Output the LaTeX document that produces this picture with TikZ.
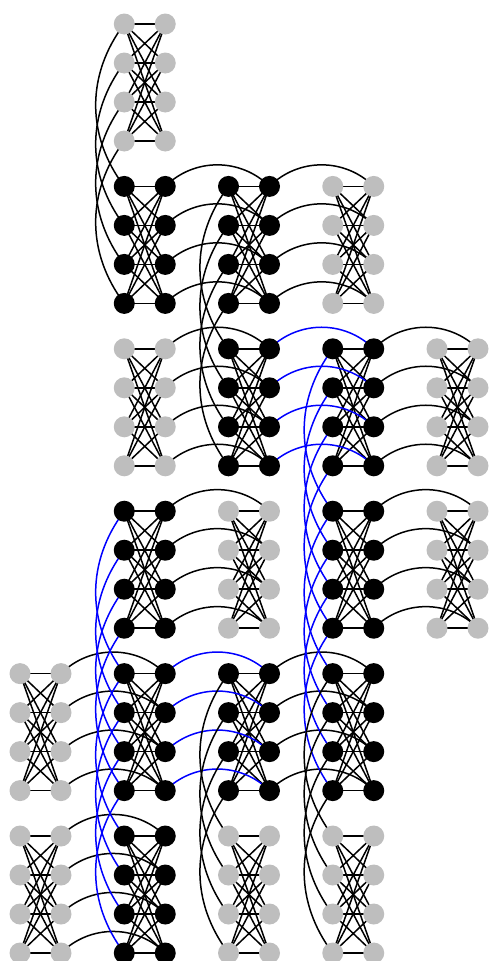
\documentclass[tikz,border=0pt]{standalone}
\usetikzlibrary{backgrounds}
\definecolor{qgray}{RGB}{190,190,190}
\definecolor{qblue}{RGB}{0,0,255}
\tikzset{
  qb/.style={circle, minimum size=21pt, inner sep=0pt, draw=none},
  act/.style={qb, fill=black},
  idle/.style={qb, fill=qgray},
  edge/.style={line width=1.5pt},
}
\begin{document}
\begin{tikzpicture}[x=1pt,y=-1pt]
\useasboundingbox (0,0) rectangle (490,961);
% qubits
\foreach \r/\c/\s in {0/1/idle,1/1/act,1/2/act,1/3/idle,2/1/idle,2/2/act,2/3/act,2/4/idle,
  3/1/act,3/2/idle,3/3/act,3/4/idle,4/0/idle,4/1/act,4/2/act,4/3/act,5/0/idle,5/1/act,5/2/idle,5/3/idle}{
  \foreach \i in {0,...,3}{
    \node[\s] (L\r\c\i) at ({20+104.25*\c},{24+162.4*\r+39*\i}) {};
    \node[\s] (R\r\c\i) at ({61+104.25*\c},{24+162.4*\r+39*\i}) {};
  }
}
\begin{pgfonlayer}{background}
% internal K4,4
\foreach \r/\c in {0/1,1/1,1/2,1/3,2/1,2/2,2/3,2/4,3/1,3/2,3/3,3/4,4/0,4/1,4/2,4/3,5/0,5/1,5/2,5/3}{
  \foreach \i in {0,...,3}{
    \foreach \j in {0,...,3}{
      \draw[edge] (L\r\c\i.center) -- (R\r\c\j.center);
    }
  }
}
% horizontal couplers
\foreach \r/\c/\d/\col in {1/1/2/black,1/2/3/black,2/1/2/black,2/2/3/qblue,2/3/4/black,
  3/1/2/black,3/3/4/black,4/0/1/black,4/1/2/qblue,4/2/3/black,5/0/1/black}{
  \foreach \i in {0,...,3}{
    \draw[edge,\col] (R\r\c\i.center) to[bend left=45] (R\r\d\i.center);
  }
}
% vertical couplers
\foreach \r/\s/\c/\col in {0/1/1/black,1/2/2/black,2/3/3/qblue,3/4/3/qblue,3/4/1/qblue,
  4/5/1/qblue,4/5/2/black,4/5/3/black}{
  \foreach \i in {0,...,3}{
    \draw[edge,\col] (L\r\c\i.center) to[bend right=37] (L\s\c\i.center);
  }
}
\end{pgfonlayer}
\end{tikzpicture}
\end{document}
